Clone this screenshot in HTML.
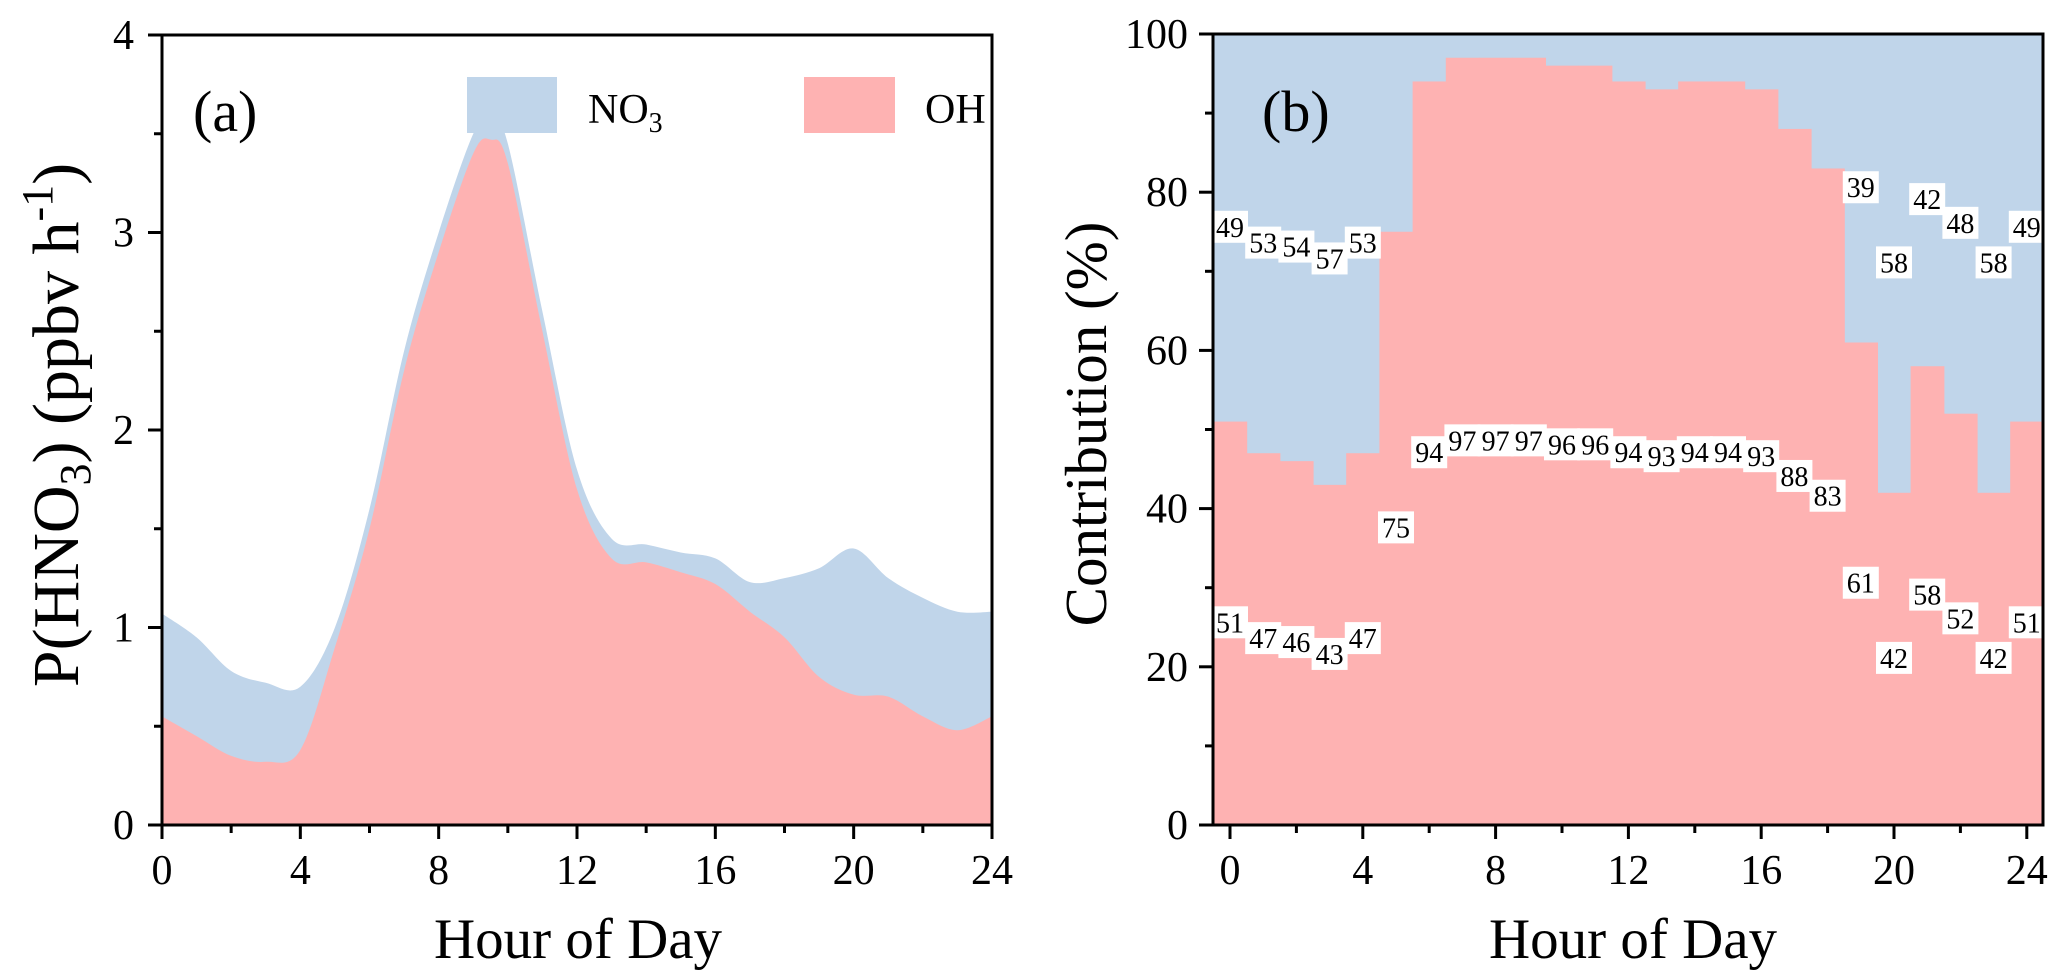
<!DOCTYPE html>
<html><head><meta charset="utf-8"><style>
html,body{margin:0;padding:0;background:#fff}
svg{display:block;font-family:"Liberation Serif",serif}
</style></head><body>
<svg id="chart" width="2067" height="977" viewBox="0 0 2067 977" xmlns="http://www.w3.org/2000/svg">
<g id="pa"></g>
<g id="pb"></g>
</svg>
<script>
// Panel (a) data
const hoursA = [0,1,2,3,4,5,6,7,8,9,9.5,10,11,12,13,14,15,16,17,18,19,20,21,22,23,24];
const totalA = [1.07,0.95,0.78,0.72,0.70,1.0,1.6,2.4,3.0,3.5,3.58,3.45,2.6,1.8,1.45,1.42,1.38,1.35,1.23,1.25,1.3,1.4,1.25,1.15,1.08,1.08];
const ohA = [0.55,0.45,0.35,0.32,0.38,0.9,1.5,2.3,2.9,3.4,3.47,3.35,2.5,1.7,1.35,1.33,1.28,1.22,1.08,0.95,0.75,0.66,0.65,0.55,0.48,0.55];
const xTicksA = [0,4,8,12,16,20,24];
const yTicksA = [0,1,2,3,4];
// Panel (b) data
const hoursB = [0,1,2,3,4,5,6,7,8,9,10,11,12,13,14,15,16,17,18,19,20,21,22,23,24];
const ohB = [51,47,46,43,47,75,94,97,97,97,96,96,94,93,94,94,93,88,83,61,42,58,52,42,51];
const no3LabelHours = [0,1,2,3,4,19,20,21,22,23,24];
const yTicksB = [0,20,40,60,80,100];

const NS="http://www.w3.org/2000/svg";
function mk(parent,tag,attrs,text){const e=document.createElementNS(NS,tag);for(const k in attrs)e.setAttribute(k,attrs[k]);if(text!==undefined)e.textContent=text;parent.appendChild(e);return e;}
const BLUE="#c0d5ea", PINK="#feb2b2";

// ---------- Panel A ----------
const pa=document.getElementById('pa');
const ax={l:162,r:992,t:35,b:825};
const xA=h=>ax.l+(h/24)*(ax.r-ax.l);
const yA=v=>ax.b-(v/4)*(ax.b-ax.t);
function smooth(xs,ys){
  const p=xs.map((x,i)=>[xA(x),yA(ys[i])]);
  let d=`M${p[0][0]},${p[0][1]}`;
  for(let i=0;i<p.length-1;i++){
    const p0=p[Math.max(0,i-1)],p1=p[i],p2=p[i+1],p3=p[Math.min(p.length-1,i+2)];
    const c1=[p1[0]+(p2[0]-p0[0])/6,p1[1]+(p2[1]-p0[1])/6];
    const c2=[p2[0]-(p3[0]-p1[0])/6,p2[1]-(p3[1]-p1[1])/6];
    d+=` C${c1[0]},${c1[1]} ${c2[0]},${c2[1]} ${p2[0]},${p2[1]}`;
  }
  return d;
}
const areaNo3=mk(pa,'path',{d:smooth(hoursA,totalA)+` L${xA(24)},${yA(0)} L${xA(0)},${yA(0)} Z`,fill:BLUE});


const areaOh=mk(pa,'path',{d:smooth(hoursA,ohA)+` L${xA(24)},${yA(0)} L${xA(0)},${yA(0)} Z`,fill:PINK});


const frameA=mk(pa,'rect',{x:ax.l,y:ax.t,width:ax.r-ax.l,height:ax.b-ax.t,fill:'none',stroke:'#000','stroke-width':3});


for(let h=0;h<=24;h+=2){
  const major=h%4===0;
  const t=mk(pa,'line',{x1:xA(h),x2:xA(h),y1:ax.b,y2:ax.b+(major?14:8),stroke:'#000','stroke-width':3});
  
  
}
xTicksA.forEach(h=>{
  const t=mk(pa,'text',{x:xA(h),y:884,'font-size':42,'text-anchor':'middle'},String(h));
  
  
});
for(let v=0;v<=4;v+=0.5){
  const major=v%1===0;
  const t=mk(pa,'line',{x1:ax.l-(major?14:8),x2:ax.l,y1:yA(v),y2:yA(v),stroke:'#000','stroke-width':3});
  
  
}
yTicksA.forEach(v=>{
  const t=mk(pa,'text',{x:ax.l-28,y:yA(v)+14,'font-size':42,'text-anchor':'end'},String(v));
  
  
});

// ---------- Panel B ----------
const pb=document.getElementById('pb');
const bx={l:1213,r:2043,t:34,b:825};
const xB=h=>1230+h*33.2;
const yB=v=>bx.b-(v/100)*(bx.b-bx.t);
const bgB=mk(pb,'rect',{x:bx.l,y:bx.t,width:bx.r-bx.l,height:bx.b-bx.t,fill:BLUE});


hoursB.forEach((h,i)=>{
  const x0=Math.max(bx.l,xB(h-0.5)), x1=Math.min(bx.r,xB(h+0.5));
  const r=mk(pb,'rect',{x:x0,y:yB(ohB[i]),width:x1-x0+0.6,height:yB(0)-yB(ohB[i]),fill:PINK});
  
  
});
function valLabel(h,yv,txt){
  const g=mk(pb,'g',{});
  
  
  mk(g,'rect',{x:xB(h)-18,y:yB(yv)-17,width:36,height:32,fill:'#fff'});
  mk(g,'text',{x:xB(h),y:yB(yv)+9,'font-size':28,'text-anchor':'middle'},txt);
}
hoursB.forEach((h,i)=>{
  valLabel(h,ohB[i]/2,String(ohB[i]));
  if(no3LabelHours.includes(h)){
    const n=100-ohB[i];
    valLabel(h,ohB[i]+n/2,String(n));
  }
});
const frameB=mk(pb,'rect',{x:bx.l,y:bx.t,width:bx.r-bx.l,height:bx.b-bx.t,fill:'none',stroke:'#000','stroke-width':3});


for(let h=0;h<=24;h+=2){
  const major=h%4===0;
  const t=mk(pb,'line',{x1:xB(h),x2:xB(h),y1:bx.b,y2:bx.b+(major?14:8),stroke:'#000','stroke-width':3});
  
  
}
xTicksA.forEach(h=>{
  const t=mk(pb,'text',{x:xB(h),y:884,'font-size':42,'text-anchor':'middle'},String(h));
  
  
});
for(let v=0;v<=100;v+=10){
  const major=v%20===0;
  const t=mk(pb,'line',{x1:bx.l-(major?14:8),x2:bx.l,y1:yB(v),y2:yB(v),stroke:'#000','stroke-width':3});
  
  
}
yTicksB.forEach(v=>{
  const t=mk(pb,'text',{x:bx.l-25,y:yB(v)+14,'font-size':42,'text-anchor':'end'},String(v));
  
  
});
</script>
<svg style="position:absolute;left:0;top:0" width="2067" height="977" xmlns="http://www.w3.org/2000/svg" font-family="Liberation Serif, serif">
<rect x="467" y="77" width="90" height="56" fill="#c0d5ea"/>
<text x="588" y="123" font-size="42">NO<tspan font-size="28" dy="9">3</tspan></text>
<rect x="804" y="77" width="91" height="56" fill="#feb2b2"/>
<text x="925" y="123" font-size="42">OH</text>
<text x="193" y="131" font-size="58">(a)</text>
<text x="1262" y="131" font-size="58">(b)</text>
<text x="578" y="958" font-size="57" text-anchor="middle">Hour of Day</text>
<text x="1633" y="958" font-size="57" text-anchor="middle">Hour of Day</text>
<text transform="translate(78,425) rotate(-90)" font-size="66" text-anchor="middle">P(HNO<tspan font-size="44" dy="12">3</tspan><tspan dy="-12">) (ppbv h</tspan><tspan font-size="44" dy="-26">-1</tspan><tspan dy="26">)</tspan></text>
<text transform="translate(1106,424) rotate(-90)" font-size="59" text-anchor="middle">Contribution (%)</text>
</svg>
</body></html>
